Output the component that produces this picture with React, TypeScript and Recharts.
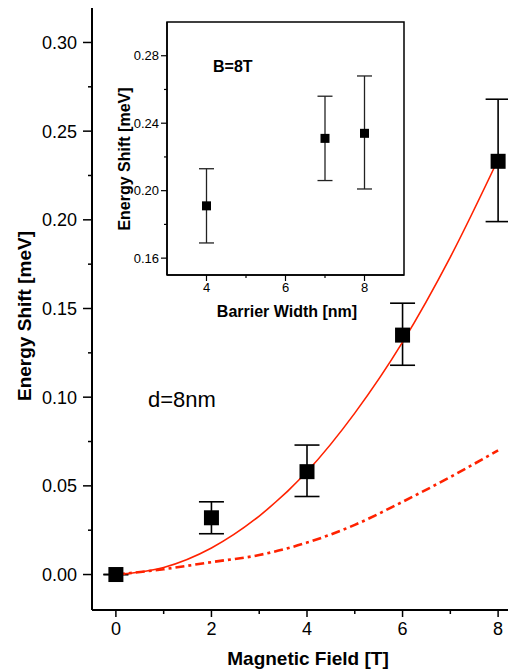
import React from 'react';
import {
  ComposedChart,
  Scatter,
  Line,
  XAxis,
  YAxis,
  ErrorBar,
  ReferenceLine,
  ReferenceArea,
} from 'recharts';

// main panel: energy shift vs magnetic field (d = 8 nm)
const fieldT = [0, 2, 4, 6, 8];
const shiftMeV = [0, 0.032, 0.058, 0.135, 0.233];
const errDown = [0, 0.009, 0.014, 0.017, 0.034];
const errUp = [0, 0.009, 0.015, 0.018, 0.035];

// fitted curves
const fitField = [0, 1, 2, 3, 4, 5, 6, 7, 8];
const solidFit = [0, 0.004, 0.015, 0.033, 0.058, 0.091, 0.131, 0.179, 0.234];
const dashFit = [0, 0.003, 0.007, 0.011, 0.018, 0.028, 0.041, 0.055, 0.07];

const mainXTicks = [0, 1, 2, 3, 4, 5, 6, 7, 8];
const mainYTicks = [0, 0.025, 0.05, 0.075, 0.1, 0.125, 0.15, 0.175, 0.2, 0.225, 0.25, 0.275, 0.3];

// inset: B = 8T, energy shift vs barrier width
const barrierNm = [4, 7, 8];
const insetShift = [0.191, 0.231, 0.234];
const insetErrDown = [0.022, 0.025, 0.033];
const insetErrUp = [0.022, 0.025, 0.034];

const insetXTicks = [4, 5, 6, 7, 8];
const insetYTicks = [0.16, 0.18, 0.2, 0.22, 0.24, 0.26, 0.28];

const FONT = '"Liberation Sans", Arial, Helvetica, sans-serif';
const RED = '#ff2200';

const mainPoints = fieldT.map((x, i) => ({ x, y: shiftMeV[i], err: [errDown[i], errUp[i]] }));
const fitData = fitField.map((x, i) => ({ x, solid: solidFit[i], dash: dashFit[i] }));
const insetPoints = barrierNm.map((x, i) => ({ x, y: insetShift[i], err: [insetErrDown[i], insetErrUp[i]] }));

const isMajor = (v: number, step: number) => Math.abs(v / step - Math.round(v / step)) < 1e-6;

const MainYTick = (props: any) => {
  const { x, y, payload } = props;
  const major = isMajor(payload.value, 0.05);
  return (
    <g>
      <line x1={x - (major ? 9 : 4)} x2={x} y1={y} y2={y} stroke="#000" strokeWidth={1.5} />
      {major && (
        <text x={x - 15} y={y + 6.5} textAnchor="end" fontSize={18} fontFamily={FONT} fill="#000">
          {payload.value.toFixed(2)}
        </text>
      )}
    </g>
  );
};

const MainXTick = (props: any) => {
  const { x, y, payload } = props;
  const major = isMajor(payload.value, 2);
  return (
    <g>
      <line x1={x} x2={x} y1={y} y2={y + (major ? 7 : 4)} stroke="#000" strokeWidth={1.5} />
      {major && (
        <text x={x} y={y + 25} textAnchor="middle" fontSize={18} fontFamily={FONT} fill="#000">
          {payload.value}
        </text>
      )}
    </g>
  );
};

const InsetYTick = (props: any) => {
  const { x, y, payload } = props;
  const major = isMajor(payload.value, 0.04);
  return (
    <g>
      <line x1={x - (major ? 6 : 3)} x2={x} y1={y} y2={y} stroke="#000" strokeWidth={1.2} />
      {major && (
        <text x={x - 8} y={y + 4.5} textAnchor="end" fontSize={13} fontFamily={FONT} fill="#000">
          {payload.value.toFixed(2)}
        </text>
      )}
    </g>
  );
};

const InsetXTick = (props: any) => {
  const { x, y, payload } = props;
  const major = isMajor(payload.value, 2);
  return (
    <g>
      <line x1={x} x2={x} y1={y} y2={y + (major ? 6 : 3)} stroke="#000" strokeWidth={1.2} />
      {major && (
        <text x={x} y={y + 17} textAnchor="middle" fontSize={13} fontFamily={FONT} fill="#000">
          {payload.value}
        </text>
      )}
    </g>
  );
};

const square = (size: number) => (props: any) => {
  const { cx, cy } = props;
  return <rect x={cx - size / 2} y={cy - size / 2} width={size} height={size} fill="#000" />;
};

export default function App() {
  return (
    <div
      style={{
        position: 'relative',
        margin: '-8px 0 0 -8px',
        width: 516,
        height: 670,
        overflow: 'hidden',
        background: '#fff',
        fontFamily: FONT,
      }}
    >
      {/* main chart */}
      <div style={{ position: 'absolute', left: 0, top: 0 }}>
        <ComposedChart width={530} height={670} margin={{ top: 7, right: 8, left: 0, bottom: 0 }}>
          <XAxis
            type="number"
            dataKey="x"
            domain={[-0.5, 8.5]}
            ticks={mainXTicks}
            interval={0}
            height={60}
            tickSize={0}
            tickMargin={0}
            tickLine={false}
            tick={<MainXTick />}
            axisLine={{ stroke: '#000', strokeWidth: 2 }}
            allowDataOverflow
          />
          <YAxis
            type="number"
            domain={[-0.02, 0.32]}
            ticks={mainYTicks}
            interval={0}
            width={92}
            tickSize={0}
            tickMargin={0}
            tickLine={false}
            tick={<MainYTick />}
            axisLine={{ stroke: '#000', strokeWidth: 2 }}
            allowDataOverflow
          />
          {/* top frame line */}
          <ReferenceLine y={0.32} stroke="#000" strokeWidth={2} ifOverflow="visible" />
          <Scatter data={mainPoints} dataKey="y" shape={square(15)} isAnimationActive={false}>
            <ErrorBar dataKey="err" direction="y" width={12.5} stroke="#000" strokeWidth={1.6} />
          </Scatter>
          <Line
            data={fitData}
            dataKey="solid"
            type="monotone"
            stroke={RED}
            strokeWidth={1.6}
            dot={false}
            isAnimationActive={false}
          />
          <Line
            data={fitData}
            dataKey="dash"
            type="monotone"
            stroke={RED}
            strokeWidth={2.6}
            strokeDasharray="9 4 3 4"
            dot={false}
            isAnimationActive={false}
          />
        </ComposedChart>
      </div>

      {/* inset */}
      <div style={{ position: 'absolute', left: 100, top: 14 }}>
        <ComposedChart width={306} height={286} margin={{ top: 8, right: 2, left: 0, bottom: 0 }}>
          <XAxis
            type="number"
            dataKey="x"
            domain={[3, 9]}
            ticks={insetXTicks}
            interval={0}
            height={25}
            tickSize={0}
            tickMargin={0}
            tickLine={false}
            tick={<InsetXTick />}
            axisLine={{ stroke: '#000', strokeWidth: 1.5 }}
            allowDataOverflow
          />
          <YAxis
            type="number"
            domain={[0.15, 0.3]}
            ticks={insetYTicks}
            interval={0}
            width={67}
            tickSize={0}
            tickMargin={0}
            tickLine={false}
            tick={<InsetYTick />}
            axisLine={{ stroke: '#000', strokeWidth: 1.5 }}
            allowDataOverflow
          />
          <ReferenceArea x1={3} x2={9} y1={0.15} y2={0.3} fill="#fff" fillOpacity={1} stroke="#000" strokeWidth={1.5} />
          <Scatter data={insetPoints} dataKey="y" shape={square(9)} isAnimationActive={false}>
            <ErrorBar dataKey="err" direction="y" width={7.5} stroke="#222" strokeWidth={1.3} />
          </Scatter>
        </ComposedChart>
      </div>

      {/* titles and annotations */}
      <svg
        width={516}
        height={670}
        style={{ position: 'absolute', left: 0, top: 0, pointerEvents: 'none' }}
      >
        <text x={308} y={665} textAnchor="middle" fontSize={19} fontWeight="bold" fontFamily={FONT} fill="#000">
          Magnetic Field [T]
        </text>
        <text
          x={31}
          y={316}
          textAnchor="middle"
          fontSize={19}
          fontWeight="bold"
          fontFamily={FONT}
          fill="#000"
          transform="rotate(-90 31 316)"
        >
          Energy Shift [meV]
        </text>
        <text x={148} y={407} fontSize={22} fontFamily={FONT} fill="#000">
          d=8nm
        </text>
        <text x={287} y={317} textAnchor="middle" fontSize={16} fontWeight="bold" fontFamily={FONT} fill="#000">
          Barrier Width [nm]
        </text>
        <text
          x={130}
          y={159}
          textAnchor="middle"
          fontSize={16}
          fontWeight="bold"
          fontFamily={FONT}
          fill="#000"
          transform="rotate(-90 130 159)"
        >
          Energy Shift [meV]
        </text>
        <text x={213} y={72} fontSize={16} fontWeight="bold" fontFamily={FONT} fill="#000">
          B=8T
        </text>
      </svg>
    </div>
  );
}
